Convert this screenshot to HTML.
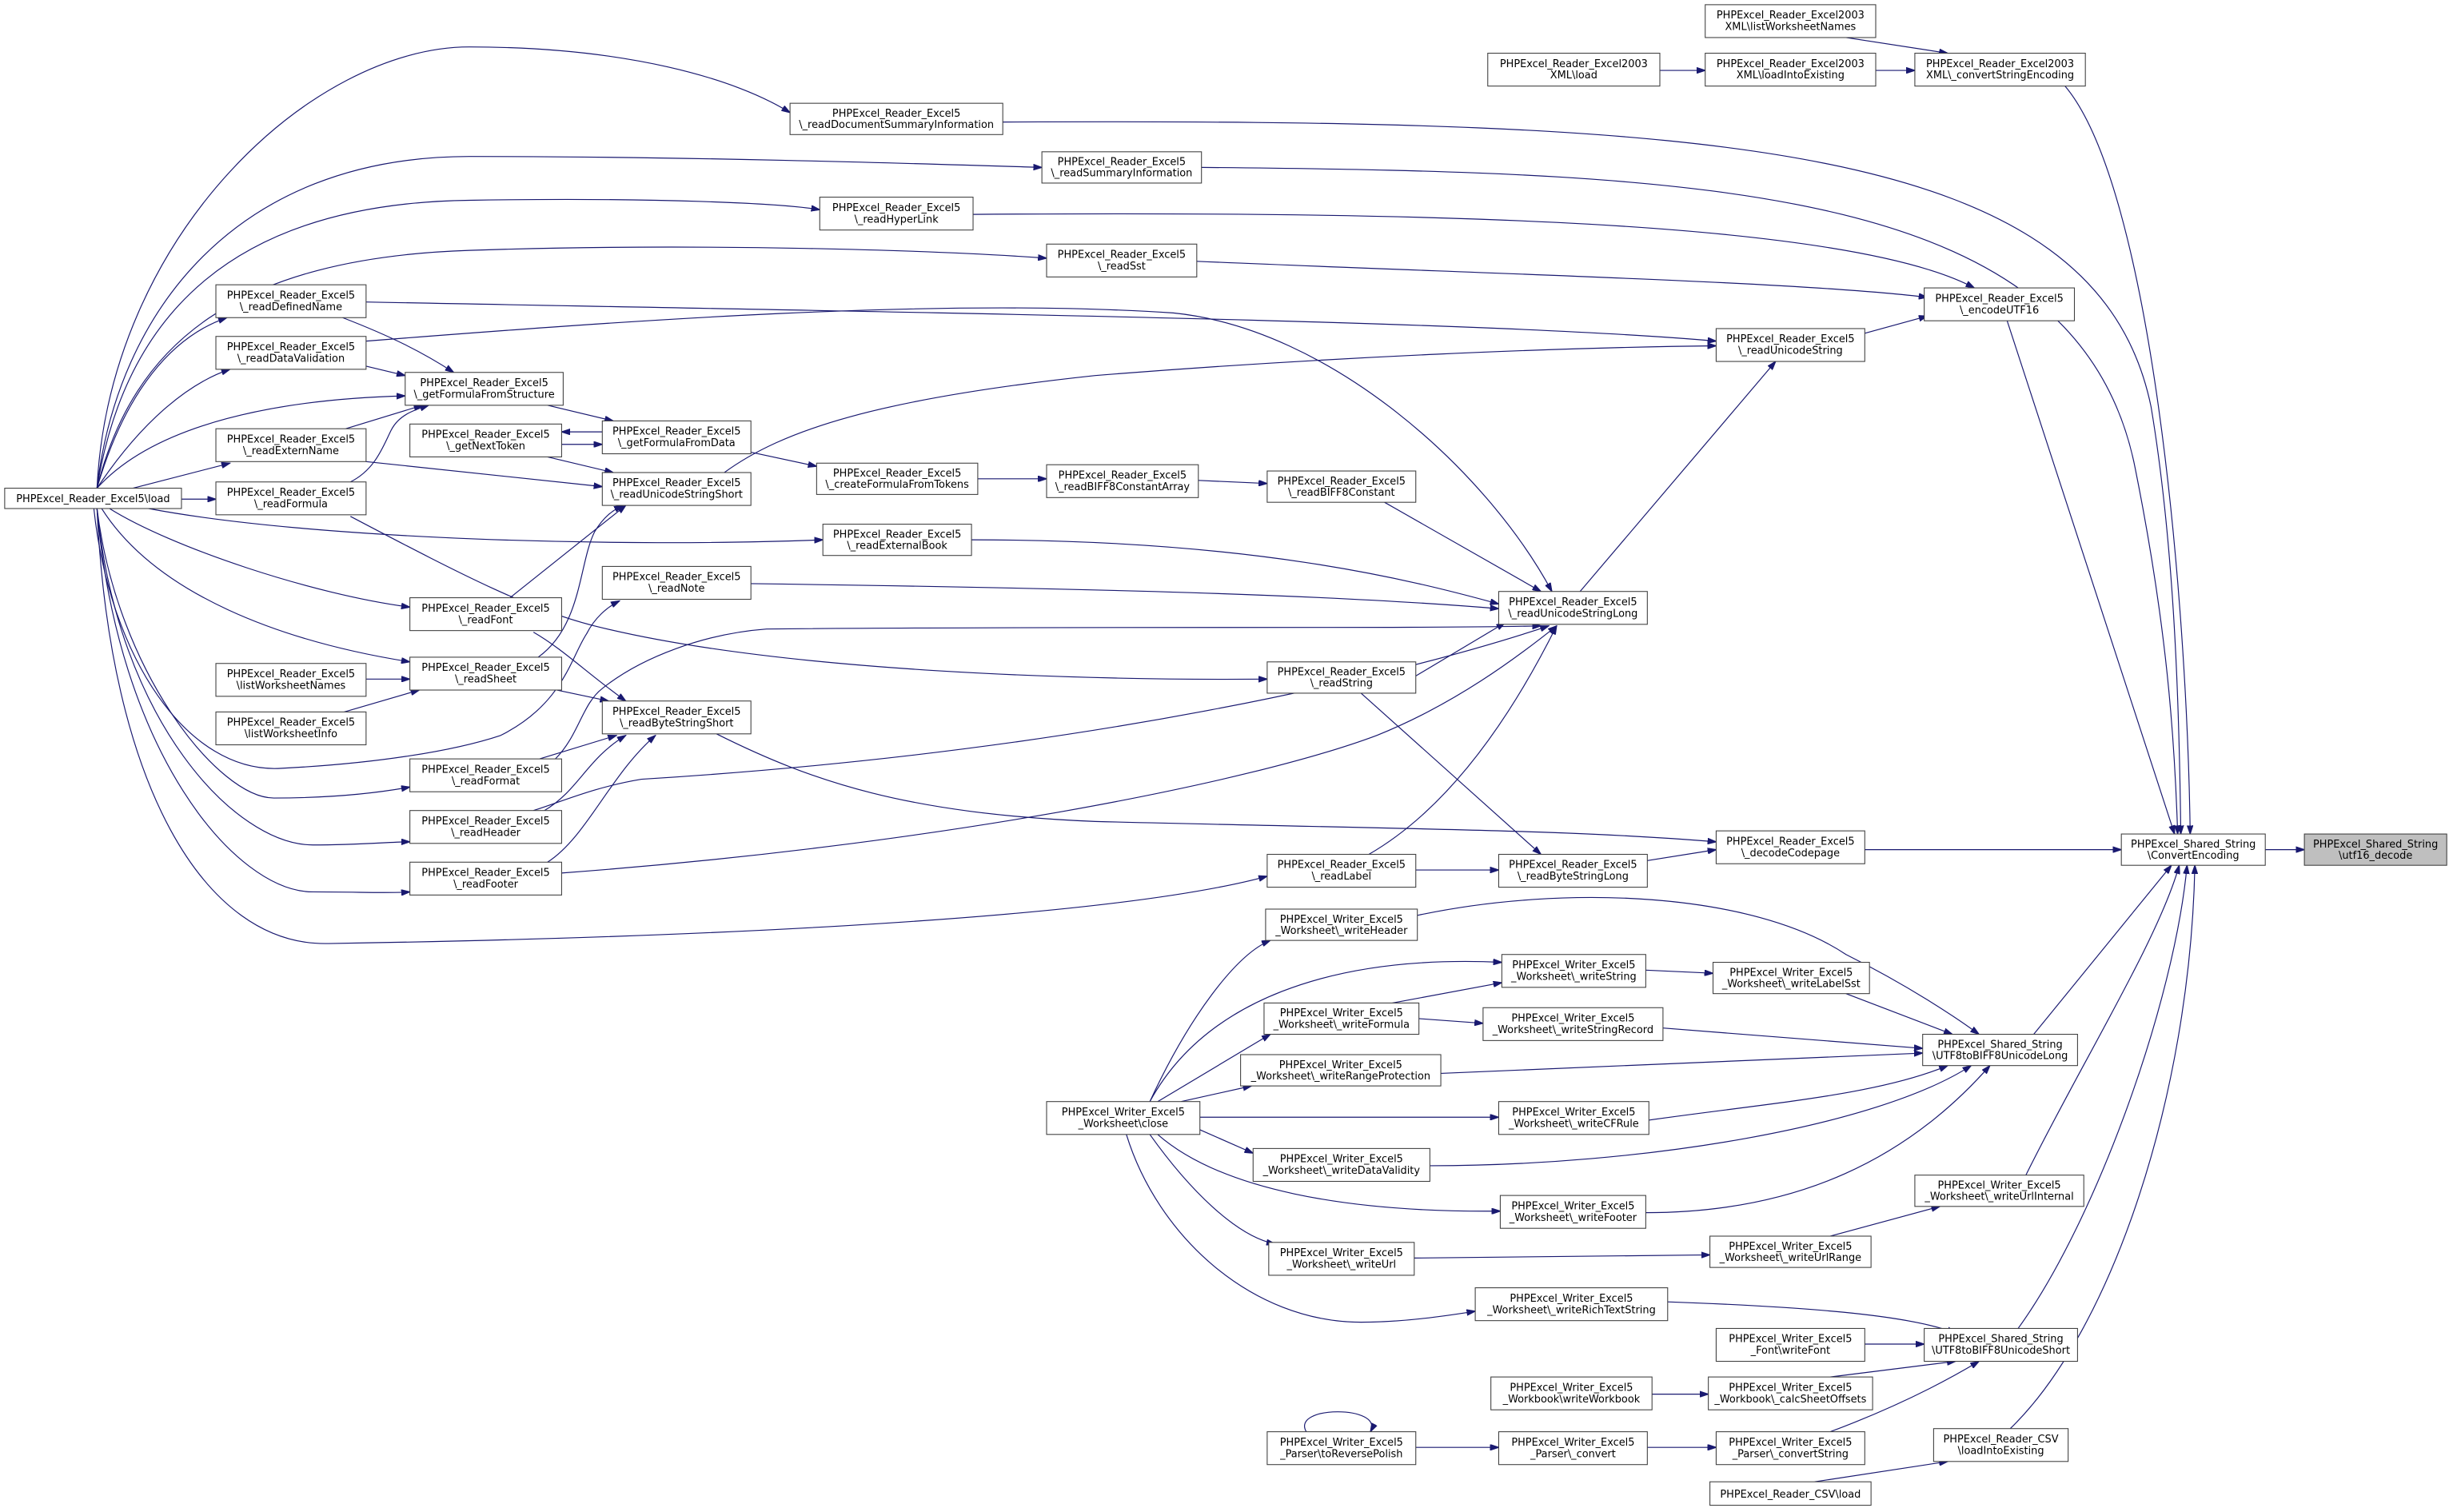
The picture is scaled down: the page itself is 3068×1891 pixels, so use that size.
<!DOCTYPE html>
<html><head><meta charset="utf-8">
<style>
html,body{margin:0;padding:0;background:#fff;}
svg{display:block;}
rect{fill:#fff;stroke:#404040;stroke-width:.55;}
text{font-family:"DejaVu Sans","Liberation Sans",sans-serif;font-size:6.6px;text-anchor:middle;fill:#000;}
path{fill:none;stroke:#191970;stroke-width:.6;marker-end:url(#a);}
</style></head>
<body>
<svg width="3068" height="1891" viewBox="0 0 1568 966.3" preserveAspectRatio="none" xmlns="http://www.w3.org/2000/svg">
<defs><marker id="a" markerUnits="userSpaceOnUse" markerWidth="6" markerHeight="4" refX="5.5" refY="2" orient="auto"><path d="M0,0 L6,2 L0,4 z" style="fill:#191970;stroke:#191970;stroke-width:.3;marker-end:none"/></marker></defs>

<!-- edges -->
<path d="M1448,543 L1473,543"/>
<path d="M1320,55 C1375,120 1398,380 1400,533"/>
<path d="M641,78 C1100,76 1340,90 1375,260 C1390,350 1393,450 1394,533"/>
<path d="M768,107 C1100,110 1330,120 1365,300 C1385,400 1390,470 1392,533"/>
<path d="M1283,205 L1390,533"/>
<path d="M1192,543 L1356,543"/>
<path d="M1300,661 L1388,553"/>
<path d="M1295,751 C1330,680 1380,600 1393,553"/>
<path d="M1290,849 C1340,780 1390,640 1398,553"/>
<path d="M1285,913 C1350,850 1400,700 1403,553"/>
<path d="M1180,24 L1245,34"/>
<path d="M1199,45 L1224,45"/>
<path d="M1061,45 L1090,45"/>
<path d="M622,137 C900,135 1180,140 1262,184"/>
<path d="M765,167 C950,175 1150,180 1232,190"/>
<path d="M1192,213 L1232,202"/>
<path d="M234,193 C600,200 950,205 1097,218"/>
<path d="M463,302 C500,275 560,255 700,240 C850,228 1000,222 1097,221"/>
<path d="M1010,378 L1135,231"/>
<path d="M234,218 C400,205 600,190 750,200 C850,210 950,300 992,378"/>
<path d="M885,321 L985,378"/>
<path d="M621,345 C800,345 900,370 958,386"/>
<path d="M480,373 C700,376 850,380 958,389"/>
<path d="M905,432 L962,398"/>
<path d="M355,485 C370,470 372,450 385,440 C410,420 450,405 490,402 C700,400 900,402 985,400"/>
<path d="M341,518 C360,512 380,503 410,498 C700,480 900,430 990,400"/>
<path d="M358,558 C600,540 800,500 880,470 C930,450 970,420 995,400"/>
<path d="M875,546 C920,520 960,470 995,400"/>
<path d="M870,443 L985,546"/>
<path d="M458,469 C520,500 580,520 700,525 C900,530 1000,530 1097,538"/>
<path d="M905,556 L958,556"/>
<path d="M1053,550 L1097,543"/>
<!-- load fan -->
<path d="M62,312 C80,250 110,215 145,203"/>
<path d="M62,312 C90,270 120,245 147,236"/>
<path d="M62,312 C100,270 180,255 259,253"/>
<path d="M85,312 L147,296"/>
<path d="M116,319 L138,319"/>
<path d="M95,325 C200,345 400,350 526,345"/>
<path d="M70,325 C110,350 200,380 262,388"/>
<path d="M65,325 C100,380 180,410 262,423"/>
<path d="M62,325 C75,430 140,510 175,510 C210,510 240,507 262,503"/>
<path d="M62,325 C75,460 150,540 200,540 C230,540 250,538 262,538"/>
<path d="M62,325 C75,480 150,570 200,570 C230,570 250,571 262,570"/>
<path d="M62,325 C70,500 130,605 210,603 C400,600 700,590 810,560"/>
<path d="M62,312 C70,150 200,30 300,30 C400,30 470,50 505,72"/>
<path d="M62,312 C75,200 150,100 300,100 C450,100 600,105 666,107"/>
<path d="M62,312 C80,200 150,130 300,128 C420,126 500,130 524,134"/>
<path d="M62,312 C85,220 150,165 300,160 C450,155 600,160 669,165"/>
<path d="M60,325 C70,420 120,495 180,491 C240,488 290,480 320,470 C360,450 365,420 375,405 C380,395 388,388 396,384"/>
<!-- cols 2-4 -->
<path d="M219,203 C250,215 270,225 290,238"/>
<path d="M234,234 L259,240"/>
<path d="M221,274 L270,259"/>
<path d="M224,308 C240,300 245,285 250,275 C255,265 265,262 274,259"/>
<path d="M234,295 L385,311"/>
<path d="M350,259 L392,269"/>
<path d="M385,276 L359,276"/>
<path d="M359,284 L385,284"/>
<path d="M350,292 L392,302"/>
<path d="M480,289 L522,298"/>
<path d="M625,306 L669,306"/>
<path d="M766,307 L810,309"/>
<path d="M224,330 C300,370 340,390 380,400 C500,430 700,435 810,434"/>
<path d="M326,382 L400,323"/>
<path d="M344,420 C372,400 370,360 380,340 C386,330 392,326 398,323"/>
<path d="M341,404 C360,415 375,430 400,448"/>
<path d="M356,441 L389,448"/>
<path d="M345,485 L394,470"/>
<path d="M348,518 C370,505 375,485 400,470"/>
<path d="M350,551 C375,535 390,495 419,470"/>
<path d="M234,434 L262,434"/>
<path d="M220,455 L268,441"/>
<!-- writer -->
<path d="M735,704 C760,650 790,610 812,601"/>
<path d="M735,704 C770,640 850,610 960,615"/>
<path d="M740,704 L812,661"/>
<path d="M755,704 L800,694"/>
<path d="M767,714 L958,714"/>
<path d="M767,722 L801,737"/>
<path d="M740,725 C780,760 860,775 959,774"/>
<path d="M735,725 C760,760 790,790 815,795"/>
<path d="M720,725 C740,790 800,845 870,845 C900,845 930,840 943,838"/>
<path d="M890,641 L960,628"/>
<path d="M907,651 L948,654"/>
<path d="M1052,620 L1095,622"/>
<path d="M1180,635 L1248,661"/>
<path d="M1063,657 L1229,670"/>
<path d="M921,686 L1229,673"/>
<path d="M906,585 C1000,565 1120,570 1180,610 C1220,630 1250,650 1265,661"/>
<path d="M1053,716 C1130,705 1200,700 1245,681"/>
<path d="M914,745 C1050,745 1200,720 1260,681"/>
<path d="M1052,775 C1150,775 1220,740 1272,681"/>
<path d="M904,804 L1093,802"/>
<path d="M1170,790 L1240,771"/>
<path d="M1066,832 C1150,835 1220,840 1250,852"/>
<path d="M1192,859 L1230,859"/>
<path d="M1056,891 L1092,891"/>
<path d="M1170,880 L1250,870"/>
<path d="M1170,915 C1210,900 1240,885 1265,870"/>
<path d="M1053,925 L1097,925"/>
<path d="M905,925 L958,925"/>
<path d="M835,915 C825,898 885,898 876,915"/>
<path d="M1160,947 L1245,934"/>

<!-- nodes -->
<rect x="3" y="312" width="113" height="13"/><text x="59.5" y="321">PHPExcel_Reader_Excel5\load</text>
<rect x="138" y="182" width="96" height="21"/><text x="186" y="190.8">PHPExcel_Reader_Excel5</text><text x="186" y="198.2">\_readDefinedName</text>
<rect x="138" y="215" width="96" height="21"/><text x="186" y="223.8">PHPExcel_Reader_Excel5</text><text x="186" y="231.2">\_readDataValidation</text>
<rect x="138" y="274" width="96" height="21"/><text x="186" y="282.8">PHPExcel_Reader_Excel5</text><text x="186" y="290.2">\_readExternName</text>
<rect x="138" y="308" width="96" height="21"/><text x="186" y="316.8">PHPExcel_Reader_Excel5</text><text x="186" y="324.2">\_readFormula</text>
<rect x="138" y="424" width="96" height="21"/><text x="186" y="432.8">PHPExcel_Reader_Excel5</text><text x="186" y="440.2">\listWorksheetNames</text>
<rect x="138" y="455" width="96" height="21"/><text x="186" y="463.8">PHPExcel_Reader_Excel5</text><text x="186" y="471.2">\listWorksheetInfo</text>
<rect x="259" y="238" width="101" height="21"/><text x="309.5" y="246.8">PHPExcel_Reader_Excel5</text><text x="309.5" y="254.2">\_getFormulaFromStructure</text>
<rect x="262" y="271" width="97" height="21"/><text x="310.5" y="279.8">PHPExcel_Reader_Excel5</text><text x="310.5" y="287.2">\_getNextToken</text>
<rect x="262" y="382" width="97" height="21"/><text x="310.5" y="390.8">PHPExcel_Reader_Excel5</text><text x="310.5" y="398.2">\_readFont</text>
<rect x="262" y="420" width="97" height="21"/><text x="310.5" y="428.8">PHPExcel_Reader_Excel5</text><text x="310.5" y="436.2">\_readSheet</text>
<rect x="262" y="485" width="97" height="21"/><text x="310.5" y="493.8">PHPExcel_Reader_Excel5</text><text x="310.5" y="501.2">\_readFormat</text>
<rect x="262" y="518" width="97" height="21"/><text x="310.5" y="526.8">PHPExcel_Reader_Excel5</text><text x="310.5" y="534.2">\_readHeader</text>
<rect x="262" y="551" width="97" height="21"/><text x="310.5" y="559.8">PHPExcel_Reader_Excel5</text><text x="310.5" y="567.2">\_readFooter</text>
<rect x="385" y="269" width="95" height="21"/><text x="432.5" y="277.8">PHPExcel_Reader_Excel5</text><text x="432.5" y="285.2">\_getFormulaFromData</text>
<rect x="385" y="302" width="95" height="21"/><text x="432.5" y="310.8">PHPExcel_Reader_Excel5</text><text x="432.5" y="318.2">\_readUnicodeStringShort</text>
<rect x="385" y="362" width="95" height="21"/><text x="432.5" y="370.8">PHPExcel_Reader_Excel5</text><text x="432.5" y="378.2">\_readNote</text>
<rect x="385" y="448" width="95" height="21"/><text x="432.5" y="456.8">PHPExcel_Reader_Excel5</text><text x="432.5" y="464.2">\_readByteStringShort</text>
<rect x="505" y="66" width="136" height="20"/><text x="573" y="74.6">PHPExcel_Reader_Excel5</text><text x="573" y="81.8">\_readDocumentSummaryInformation</text>
<rect x="666" y="97" width="102" height="20"/><text x="717" y="105.6">PHPExcel_Reader_Excel5</text><text x="717" y="112.8">\_readSummaryInformation</text>
<rect x="524" y="126" width="98" height="21"/><text x="573" y="134.8">PHPExcel_Reader_Excel5</text><text x="573" y="142.2">\_readHyperLink</text>
<rect x="669" y="156" width="96" height="21"/><text x="717" y="164.8">PHPExcel_Reader_Excel5</text><text x="717" y="172.2">\_readSst</text>
<rect x="522" y="296" width="103" height="20"/><text x="573.5" y="304.6">PHPExcel_Reader_Excel5</text><text x="573.5" y="311.8">\_createFormulaFromTokens</text>
<rect x="669" y="297" width="97" height="21"/><text x="717.5" y="305.8">PHPExcel_Reader_Excel5</text><text x="717.5" y="313.2">\_readBIFF8ConstantArray</text>
<rect x="810" y="301" width="95" height="20"/><text x="857.5" y="309.6">PHPExcel_Reader_Excel5</text><text x="857.5" y="316.8">\_readBIFF8Constant</text>
<rect x="526" y="335" width="95" height="20"/><text x="573.5" y="343.6">PHPExcel_Reader_Excel5</text><text x="573.5" y="350.8">\_readExternalBook</text>
<rect x="810" y="423" width="95" height="20"/><text x="857.5" y="431.6">PHPExcel_Reader_Excel5</text><text x="857.5" y="438.8">\_readString</text>
<rect x="958" y="378" width="95" height="21"/><text x="1005.5" y="386.8">PHPExcel_Reader_Excel5</text><text x="1005.5" y="394.2">\_readUnicodeStringLong</text>
<rect x="810" y="546" width="95" height="21"/><text x="857.5" y="554.8">PHPExcel_Reader_Excel5</text><text x="857.5" y="562.2">\_readLabel</text>
<rect x="958" y="546" width="95" height="21"/><text x="1005.5" y="554.8">PHPExcel_Reader_Excel5</text><text x="1005.5" y="562.2">\_readByteStringLong</text>
<rect x="1097" y="531" width="95" height="21"/><text x="1144.5" y="539.8">PHPExcel_Reader_Excel5</text><text x="1144.5" y="547.2">\_decodeCodepage</text>
<rect x="1097" y="210" width="95" height="21"/><text x="1144.5" y="218.8">PHPExcel_Reader_Excel5</text><text x="1144.5" y="226.2">\_readUnicodeString</text>
<rect x="1230" y="184" width="96" height="21"/><text x="1278" y="192.8">PHPExcel_Reader_Excel5</text><text x="1278" y="200.2">\_encodeUTF16</text>
<rect x="1090" y="3" width="109" height="21"/><text x="1144.5" y="11.8">PHPExcel_Reader_Excel2003</text><text x="1144.5" y="19.2">XML\listWorksheetNames</text>
<rect x="951" y="34" width="110" height="21"/><text x="1006" y="42.8">PHPExcel_Reader_Excel2003</text><text x="1006" y="50.2">XML\load</text>
<rect x="1090" y="34" width="109" height="21"/><text x="1144.5" y="42.8">PHPExcel_Reader_Excel2003</text><text x="1144.5" y="50.2">XML\loadIntoExisting</text>
<rect x="1224" y="34" width="109" height="21"/><text x="1278.5" y="42.8">PHPExcel_Reader_Excel2003</text><text x="1278.5" y="50.2">XML\_convertStringEncoding</text>
<rect x="1356" y="533" width="92" height="20"/><text x="1402" y="541.6">PHPExcel_Shared_String</text><text x="1402" y="548.8">\ConvertEncoding</text>
<rect x="1473" y="533" width="91" height="20" style="fill:#bfbfbf"/><text x="1518.5" y="541.6">PHPExcel_Shared_String</text><text x="1518.5" y="548.8">\utf16_decode</text>
<rect x="809" y="581" width="97" height="20"/><text x="857.5" y="589.6">PHPExcel_Writer_Excel5</text><text x="857.5" y="596.8">_Worksheet\_writeHeader</text>
<rect x="960" y="610" width="92" height="21"/><text x="1006" y="618.8">PHPExcel_Writer_Excel5</text><text x="1006" y="626.2">_Worksheet\_writeString</text>
<rect x="1095" y="615" width="100" height="20"/><text x="1145" y="623.6">PHPExcel_Writer_Excel5</text><text x="1145" y="630.8">_Worksheet\_writeLabelSst</text>
<rect x="808" y="641" width="99" height="20"/><text x="857.5" y="649.6">PHPExcel_Writer_Excel5</text><text x="857.5" y="656.8">_Worksheet\_writeFormula</text>
<rect x="948" y="644" width="115" height="21"/><text x="1005.5" y="652.8">PHPExcel_Writer_Excel5</text><text x="1005.5" y="660.2">_Worksheet\_writeStringRecord</text>
<rect x="793" y="674" width="128" height="20"/><text x="857" y="682.6">PHPExcel_Writer_Excel5</text><text x="857" y="689.8">_Worksheet\_writeRangeProtection</text>
<rect x="1229" y="661" width="99" height="20"/><text x="1278.5" y="669.6">PHPExcel_Shared_String</text><text x="1278.5" y="676.8">\UTF8toBIFF8UnicodeLong</text>
<rect x="669" y="704" width="98" height="21"/><text x="718" y="712.8">PHPExcel_Writer_Excel5</text><text x="718" y="720.2">_Worksheet\close</text>
<rect x="958" y="704" width="96" height="21"/><text x="1006" y="712.8">PHPExcel_Writer_Excel5</text><text x="1006" y="720.2">_Worksheet\_writeCFRule</text>
<rect x="801" y="734" width="113" height="21"/><text x="857.5" y="742.8">PHPExcel_Writer_Excel5</text><text x="857.5" y="750.2">_Worksheet\_writeDataValidity</text>
<rect x="1224" y="751" width="108" height="20"/><text x="1278" y="759.6">PHPExcel_Writer_Excel5</text><text x="1278" y="766.8">_Worksheet\_writeUrlInternal</text>
<rect x="959" y="764" width="93" height="21"/><text x="1005.5" y="772.8">PHPExcel_Writer_Excel5</text><text x="1005.5" y="780.2">_Worksheet\_writeFooter</text>
<rect x="1093" y="790" width="103" height="20"/><text x="1144.5" y="798.6">PHPExcel_Writer_Excel5</text><text x="1144.5" y="805.8">_Worksheet\_writeUrlRange</text>
<rect x="811" y="794" width="93" height="21"/><text x="857.5" y="802.8">PHPExcel_Writer_Excel5</text><text x="857.5" y="810.2">_Worksheet\_writeUrl</text>
<rect x="943" y="823" width="123" height="21"/><text x="1004.5" y="831.8">PHPExcel_Writer_Excel5</text><text x="1004.5" y="839.2">_Worksheet\_writeRichTextString</text>
<rect x="1097" y="849" width="95" height="21"/><text x="1144.5" y="857.8">PHPExcel_Writer_Excel5</text><text x="1144.5" y="865.2">_Font\writeFont</text>
<rect x="1230" y="849" width="98" height="21"/><text x="1279" y="857.8">PHPExcel_Shared_String</text><text x="1279" y="865.2">\UTF8toBIFF8UnicodeShort</text>
<rect x="953" y="880" width="103" height="21"/><text x="1004.5" y="888.8">PHPExcel_Writer_Excel5</text><text x="1004.5" y="896.2">_Workbook\writeWorkbook</text>
<rect x="1092" y="880" width="105" height="21"/><text x="1144.5" y="888.8">PHPExcel_Writer_Excel5</text><text x="1144.5" y="896.2">_Workbook\_calcSheetOffsets</text>
<rect x="810" y="915" width="95" height="21"/><text x="857.5" y="923.8">PHPExcel_Writer_Excel5</text><text x="857.5" y="931.2">_Parser\toReversePolish</text>
<rect x="958" y="915" width="95" height="21"/><text x="1005.5" y="923.8">PHPExcel_Writer_Excel5</text><text x="1005.5" y="931.2">_Parser\_convert</text>
<rect x="1097" y="915" width="95" height="21"/><text x="1144.5" y="923.8">PHPExcel_Writer_Excel5</text><text x="1144.5" y="931.2">_Parser\_convertString</text>
<rect x="1236" y="913" width="86" height="21"/><text x="1279" y="921.8">PHPExcel_Reader_CSV</text><text x="1279" y="929.2">\loadIntoExisting</text>
<rect x="1093" y="947" width="103" height="15"/><text x="1144.5" y="957">PHPExcel_Reader_CSV\load</text>
</svg>
</body></html>
